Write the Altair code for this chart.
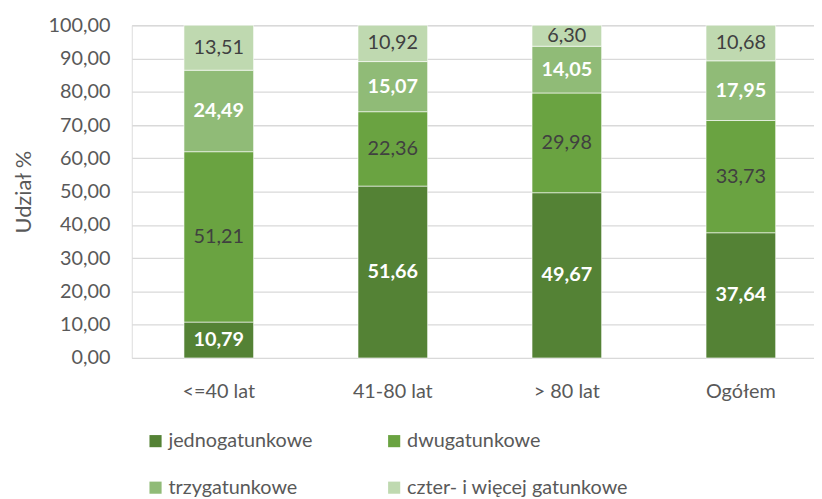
import altair as alt
import pandas as pd

categories = ["<=40 lat", "41-80 lat", "> 80 lat", "Ogółem"]
series = ["jednogatunkowe", "dwugatunkowe", "trzygatunkowe", "czter- i więcej gatunkowe"]
jedno = [10.79, 51.66, 49.67, 37.64]
dwu = [51.21, 22.36, 29.98, 33.73]
trzy = [24.49, 15.07, 14.05, 17.95]
czter = [13.51, 10.92, 6.30, 10.68]
colors = ["#548235", "#6AA341", "#90BB77", "#BFD9B0"]
y_ticks = [0, 10, 20, 30, 40, 50, 60, 70, 80, 90, 100]

rows = []
for si, (s, vals) in enumerate(zip(series, [jedno, dwu, trzy, czter])):
    for ci, c in enumerate(categories):
        rows.append({"cat": c, "series": s, "order": si, "value": vals[ci],
                     "label": f"{vals[ci]:.2f}".replace(".", ","),
                     "white": si in (0, 2)})
df = pd.DataFrame(rows)

FONT = "Lato"
FS = 20

base = alt.Chart(df).transform_stack(
    stack="value", groupby=["cat"], as_=["y0", "y1"],
    sort=[alt.SortField("order", order="ascending")]
).transform_calculate(mid="(datum.y0 + datum.y1) / 2")

xscale = alt.Scale(paddingInner=0.6, paddingOuter=0.3, range=[0, 703])
yscale = alt.Scale(domain=[0, 100])
xaxis = alt.Axis(labelAngle=0, labelFontSize=FS, labelColor="#595959",
                 labelFont=FONT, ticks=False, domain=False, labelPadding=24)
yaxis = alt.Axis(values=y_ticks, labelOverlap=False, tickCount=11,
                 labelExpr="replace(format(datum.value, '.2f'), '.', ',')",
                 labelFontSize=FS, labelColor="#595959", labelFont=FONT,
                 titleFontSize=22, titleColor="#595959", titleFont=FONT,
                 titleFontWeight="normal", titlePadding=13,
                 ticks=False, domain=False, gridColor="#D9D9D9",
                 gridWidth=1.3, labelPadding=22)

def X():
    return alt.X("cat:N", sort=categories, title=None, scale=xscale, axis=xaxis)

def Y(field):
    return alt.Y(field, scale=yscale, title="Udział %", axis=yaxis)

# legend laid out column-major: order entries so rows read jedno/dwu, trzy/czter
legend_order = [series[0], series[2], series[1], series[3]]

bars = base.mark_bar(stroke="white", strokeWidth=0.6).encode(
    x=X(),
    y=Y("y0:Q"),
    y2="y1:Q",
    color=alt.Color("series:N", sort=series,
                    scale=alt.Scale(domain=series, range=colors),
                    legend=alt.Legend(title=None, orient="none", legendX=14, legendY=410,
                                      values=legend_order,
                                      columns=2, columnPadding=72, rowPadding=27,
                                      symbolType="square", symbolSize=150,
                                      symbolStrokeWidth=0, labelFontSize=FS,
                                      labelColor="#595959", labelFont=FONT,
                                      labelOffset=3, labelLimit=400)),
)

text_dark = base.transform_filter("!datum.white").mark_text(
    fontSize=FS, font=FONT, color="#404040").encode(
    x=X(), y=Y("mid:Q"), text="label:N")
text_white = base.transform_filter("datum.white").mark_text(
    fontSize=FS, font=FONT, color="white", fontWeight="bold").encode(
    x=X(), y=Y("mid:Q"), text="label:N")

chart = alt.layer(bars, text_dark, text_white).properties(
    width=689, height=336,
    autosize=alt.AutoSizeParams(type="none"),
    padding={"left": 125, "top": 15, "right": 0, "bottom": 140},
).configure_view(strokeWidth=0).configure(background="white")

chart.save("out.html", embed_options={"renderer": "svg", "actions": False})
